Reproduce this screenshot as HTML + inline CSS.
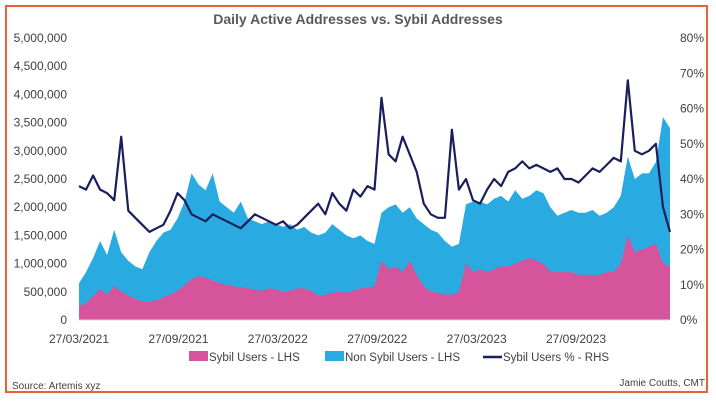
<!DOCTYPE html>
<html><head><meta charset="utf-8">
<style>
html,body{margin:0;padding:0;background:#fff;}
body{width:716px;height:402px;overflow:hidden;font-family:"Liberation Sans",sans-serif;}
#frame{position:absolute;left:5px;top:5px;width:703px;height:388px;border:2px solid #e8613a;box-sizing:border-box;}
svg{position:absolute;left:0;top:0;}
</style></head><body>
<div id="frame"></div>
<svg id="chart" width="716" height="402"></svg>
<script>
const xTickLabels=["27/03/2021","27/09/2021","27/03/2022","27/09/2022","27/03/2023","27/09/2023"];
const yLeftTicks=[0,500000,1000000,1500000,2000000,2500000,3000000,3500000,4000000,4500000,5000000];
const yRightTicks=[0,10,20,30,40,50,60,70,80];
const totalUsersK=[650,850,1100,1400,1150,1600,1200,1050,950,900,
1200,1400,1550,1600,1800,2100,2600,2400,2300,2600,
2100,2000,1900,2100,1800,1750,1700,1750,1700,1650,
1700,1600,1650,1550,1500,1550,1700,1600,1500,1450,
1500,1400,1350,1900,2000,2050,1900,2000,1800,1700,
1600,1550,1400,1300,1350,2050,2100,2100,2050,2150,
2200,2100,2300,2150,2200,2300,2250,2000,1850,1900,
1950,1900,1900,1950,1850,1900,2000,2200,2900,2500,
2600,2600,2800,3600,3400];
const sybilUsersK=[250,300,420,550,450,600,500,430,380,330,
320,350,400,450,520,620,720,780,750,700,
650,620,600,580,560,540,520,560,550,500,
520,560,560,520,430,450,480,500,480,520,
560,580,600,1050,900,950,850,1050,800,600,
500,480,450,450,500,1000,850,900,850,900,
950,950,1000,1050,1100,1050,1000,850,850,850,
850,800,800,800,800,850,850,1000,1500,1200,
1250,1300,1350,1000,950];
const sybilPct=[38,37,41,37,36,34,52,31,29,27,
25,26,27,31,36,34,30,29,28,30,
29,28,27,26,28,30,29,28,27,28,
26,27,29,31,33,30,36,33,31,37,
35,38,37,63,47,45,52,47,42,33,
30,29,29,54,37,40,34,33,37,40,
38,42,43,45,43,44,43,42,43,40,
40,39,41,43,42,44,46,45,68,48,
47,48,50,32,25];

const NS="http://www.w3.org/2000/svg";
const svg=document.getElementById('chart');
const X0=79,X1=670,Y0=320,Y1=38;
const nPts=totalUsersK.length;
function xIdx(i){return X0+(X1-X0)*i/(nPts-1);}
function yL(v){return Y0-(Y0-Y1)*v/5000000;}
function yR(p){return Y0-(Y0-Y1)*p/80;}
function mk(tag,attrs){const e=document.createElementNS(NS,tag);for(const k in attrs)e.setAttribute(k,attrs[k]);svg.appendChild(e);return e;}

let t=mk('text',{x:358,y:24,'text-anchor':'middle','font-size':14,'font-weight':'bold',fill:'#595959'});
t.textContent='Daily Active Addresses vs. Sybil Addresses';



yLeftTicks.forEach(v=>{
  const e=mk('text',{x:67,y:yL(v)+4,'text-anchor':'end','font-size':12,fill:'#404040'});
  e.textContent=v.toLocaleString('en-US');
  
  
});
yRightTicks.forEach(p=>{
  const e=mk('text',{x:680,y:yR(p)+4,'font-size':12,fill:'#404040'});
  e.textContent=p+'%';
  
  
});
const xStep=(X1-X0)/ (1085/182.5);
xTickLabels.forEach((l,i)=>{
  const e=mk('text',{x:X0+i*xStep,y:343,'text-anchor':'middle','font-size':12,fill:'#404040'});
  e.textContent=l;
  
  
});

function areaPath(arr){
  let d='M'+xIdx(0)+','+Y0;
  arr.forEach((v,i)=>{d+=' L'+xIdx(i).toFixed(1)+','+yL(v*1000).toFixed(1);});
  d+=' L'+xIdx(nPts-1)+','+Y0+' Z';return d;
}
let a=mk('path',{d:areaPath(totalUsersK),fill:'#29abe2'});


a=mk('path',{d:areaPath(sybilUsersK),fill:'#d6549b'});


let ln=mk('line',{x1:X0,y1:Y0,x2:X1,y2:Y0,stroke:'#d9d9d9','stroke-width':1});


let pd='';
sybilPct.forEach((p,i)=>{pd+=(i?' L':'M')+xIdx(i).toFixed(1)+','+yR(p).toFixed(1);});
let pl=mk('path',{d:pd,fill:'none',stroke:'#1a1f5c','stroke-width':2.2,'stroke-linejoin':'round'});



function legend(x,label,kind,color,name){
  if(kind==='rect'){const r=mk('rect',{x:x,y:351,width:19,height:10,fill:color});
    }
  else{const l=mk('line',{x1:x,y1:357,x2:x+19,y2:357,stroke:color,'stroke-width':2.5});
    }
  const e=mk('text',{x:x+20,y:361,'font-size':11.5,fill:'#404040'});
  e.textContent=label;
  
  
}
legend(189,'Sybil Users - LHS','rect','#d6549b','legend-sybil');
legend(325,'Non Sybil Users - LHS','rect','#29abe2','legend-non-sybil');
legend(483,'Sybil Users % - RHS','line','#1a1f5c','legend-sybil-pct');

t=mk('text',{x:12,y:389,'font-size':10,fill:'#404040'});t.textContent='Source: Artemis xyz';


t=mk('text',{x:705,y:386,'text-anchor':'end','font-size':10,fill:'#404040'});t.textContent='Jamie Coutts, CMT';


</script>
</body></html>
